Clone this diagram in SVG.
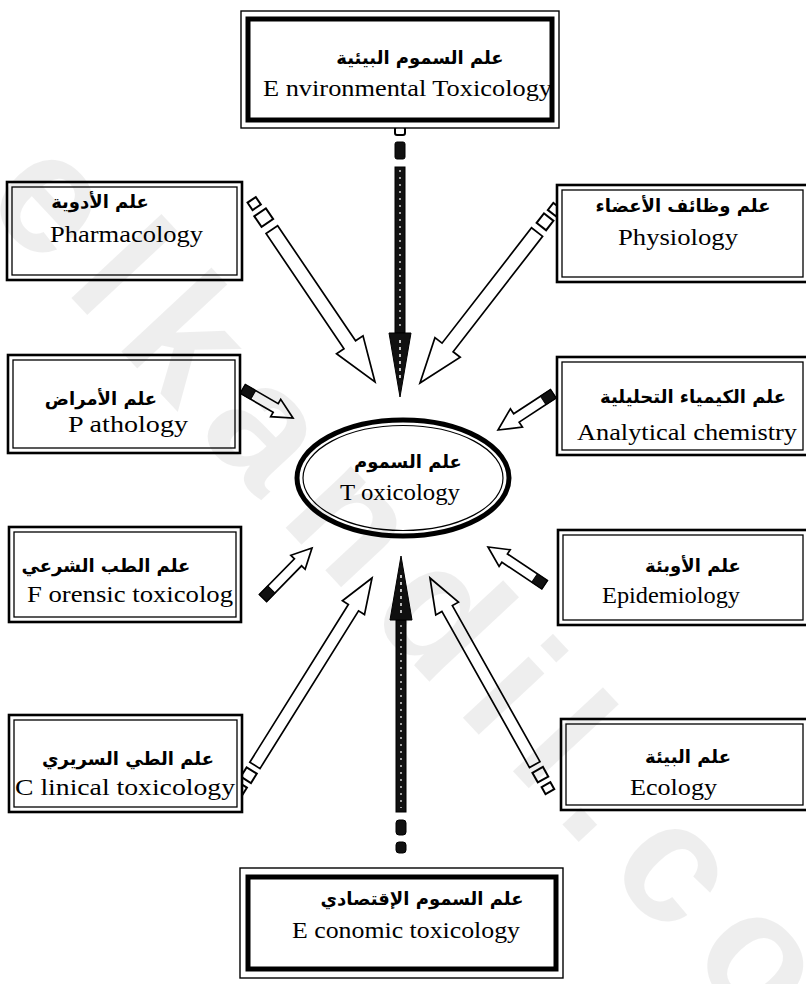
<svg xmlns="http://www.w3.org/2000/svg" width="806" height="984" viewBox="0 0 806 984">
<style>
.bo{fill:#fff;stroke:#000;stroke-width:2.6}
.bi{fill:none;stroke:#000;stroke-width:1.3}
.thin{fill:#fff;stroke:#000;stroke-width:1.4}
.thick{fill:none;stroke:#000;stroke-width:5}
.ar{font-family:"DejaVu Sans","Noto Sans",sans-serif;font-weight:bold;font-size:18px;text-anchor:middle;fill:#000}
.en{font-family:"Liberation Serif","Times New Roman",serif;font-size:24px;fill:#000}
.arw{fill:#fff;stroke:#000;stroke-width:1.7;stroke-linejoin:miter}
.dk{fill:#111;stroke:#000;stroke-width:1}
.sq{fill:#fff;stroke:#000;stroke-width:2}
.wm{font-family:"Liberation Sans",sans-serif;font-weight:bold;font-size:170px;letter-spacing:26px;fill:#000;fill-opacity:0.065}
</style>
<rect width="806" height="984" fill="#fff"/>

<g id="connectors">
  <g id="c-top">
    <rect x="395" y="127" width="10" height="8" rx="2" class="sq"/>
    <rect x="395" y="142" width="10" height="17" rx="2" class="dk"/>
    <rect x="395" y="167" width="10" height="166" class="dk"/>
    <line x1="400" y1="170" x2="400" y2="330" stroke="#fff" stroke-width="1.2" stroke-dasharray="2 5"/>
    <path d="M389,333 L411,333 L400,397 Z" class="dk"/>
    <line x1="400" y1="340" x2="400" y2="380" stroke="#fff" stroke-width="1.5" stroke-dasharray="3 4"/>
  </g>
  <g id="c-bottom">
    <rect x="396" y="820" width="10" height="15" rx="3" class="dk"/>
    <rect x="396" y="842" width="10" height="11" rx="3" class="dk"/>
    <rect x="396" y="620" width="10" height="192" class="dk"/>
    <line x1="401" y1="625" x2="401" y2="808" stroke="#fff" stroke-width="1.2" stroke-dasharray="2 5"/>
    <path d="M390,620 L412,620 L401,556 Z" class="dk"/>
    <line x1="401" y1="575" x2="401" y2="615" stroke="#fff" stroke-width="1.5" stroke-dasharray="3 4"/>
  </g>
  <g id="c-pharm" transform="translate(375,382) rotate(55.9)">
    <path d="M0,0 L-45,-16 L-45,-7 L-184,-7 L-184,7 L-45,7 L-45,16 Z" class="arw"/>
    <rect x="-205" y="-7" width="13" height="14" class="sq"/>
    <rect x="-220" y="-5" width="9" height="10" class="sq"/>
  </g>
  <g id="c-phys" transform="translate(420,383) rotate(127.8)">
    <path d="M0,0 L-45,-16 L-45,-7 L-191,-7 L-191,7 L-45,7 L-45,16 Z" class="arw"/>
    <rect x="-210" y="-6" width="12" height="12" class="sq"/>
    <rect x="-224" y="-5" width="9" height="10" class="sq"/>
  </g>
  <g id="c-path" transform="translate(293,418) rotate(30.1)">
    <path d="M0,0 L-20,-10 L-20,-5 L-58,-5 L-58,5 L-20,5 L-20,10 Z" class="arw"/>
    <path d="M-46,-5 L-58,-5 L-58,5 L-46,5 Z" class="dk"/>
  </g>
  <g id="c-anal" transform="translate(498,430) rotate(146.8)">
    <path d="M0,0 L-22,-11 L-22,-5 L-66,-5 L-66,5 L-22,5 L-22,11 Z" class="arw"/>
    <path d="M-54,-5 L-66,-5 L-66,5 L-54,5 Z" class="dk"/>
  </g>
  <g id="c-foren" transform="translate(312,548) rotate(-45.6)">
    <path d="M0,0 L-20,-10 L-20,-5 L-70,-5 L-70,5 L-20,5 L-20,10 Z" class="arw"/>
    <path d="M-58,-5 L-70,-5 L-70,5 L-58,5 Z" class="dk"/>
  </g>
  <g id="c-epid" transform="translate(488,547) rotate(-146.3)">
    <path d="M0,0 L-20,-10 L-20,-5 L-68,-5 L-68,5 L-20,5 L-20,10 Z" class="arw"/>
    <path d="M-56,-5 L-68,-5 L-68,5 L-56,5 Z" class="dk"/>
  </g>
  <g id="c-clin" transform="translate(372,578) rotate(-58)">
    <path d="M0,0 L-35,-13 L-35,-6 L-221,-6 L-221,6 L-35,6 L-35,13 Z" class="arw"/>
    <rect x="-238" y="-6" width="11" height="12" class="sq"/>
    <rect x="-252" y="-5" width="8" height="10" class="sq"/>
  </g>
  <g id="c-eco" transform="translate(430,578) rotate(-119.3)">
    <path d="M0,0 L-35,-13 L-35,-6 L-214,-6 L-214,6 L-35,6 L-35,13 Z" class="arw"/>
    <rect x="-231" y="-6" width="11" height="12" class="sq"/>
    <rect x="-245" y="-5" width="8" height="10" class="sq"/>
  </g>
</g>

<g id="n-env">
  <rect x="241" y="11" width="318" height="117" class="thin"/>
  <rect x="248" y="19" width="304" height="101" class="thick"/>
  <text class="ar" x="420" y="64">علم السموم البيئية</text>
  <text class="en" x="263" y="96" textLength="289" lengthAdjust="spacingAndGlyphs">E nvironmental Toxicology</text>
</g>

<g id="n-pharm">
  <rect x="7" y="182" width="235" height="98" class="bo"/>
  <rect x="12" y="187" width="225" height="88" class="bi"/>
  <text class="ar" x="100" y="208">علم الأدوية</text>
  <text class="en" x="50" y="242" textLength="153" lengthAdjust="spacingAndGlyphs">Pharmacology</text>
</g>

<g id="n-phys">
  <rect x="557" y="185" width="252" height="97" class="bo"/>
  <rect x="562" y="190" width="241" height="87" class="bi"/>
  <text class="ar" x="683" y="212">علم وظائف الأعضاء</text>
  <text class="en" x="618" y="245" textLength="120" lengthAdjust="spacingAndGlyphs">Physiology</text>
</g>

<g id="n-path">
  <rect x="8" y="355" width="232" height="98" class="bo"/>
  <rect x="13" y="360" width="222" height="88" class="bi"/>
  <text class="ar" x="101" y="405">علم الأمراض</text>
  <text class="en" x="68" y="432" textLength="120" lengthAdjust="spacingAndGlyphs">P athology</text>
</g>

<g id="n-anal">
  <rect x="557" y="357" width="252" height="98" class="bo"/>
  <rect x="562" y="362" width="241" height="88" class="bi"/>
  <text class="ar" x="693" y="403">علم الكيمياء التحليلية</text>
  <text class="en" x="577" y="440" textLength="220" lengthAdjust="spacingAndGlyphs">Analytical chemistry</text>
</g>

<g id="n-tox">
  <ellipse cx="403" cy="478" rx="106" ry="58" fill="#fff" stroke="#000" stroke-width="5"/>
  <ellipse cx="403" cy="478" rx="100" ry="52.5" fill="none" stroke="#000" stroke-width="1.2"/>
  <text class="ar" x="408" y="468">علم السموم</text>
  <text class="en" x="340" y="500" textLength="120" lengthAdjust="spacingAndGlyphs">T oxicology</text>
</g>

<g id="n-foren">
  <rect x="9" y="527" width="232" height="95" class="bo"/>
  <rect x="14" y="532" width="222" height="85" class="bi"/>
  <text class="ar" x="106" y="572">علم الطب الشرعي</text>
  <text class="en" x="27" y="602" textLength="206" lengthAdjust="spacingAndGlyphs">F orensic toxicolog</text>
</g>

<g id="n-epid">
  <rect x="558" y="530" width="251" height="95" class="bo"/>
  <rect x="563" y="535" width="240" height="85" class="bi"/>
  <text class="ar" x="693" y="572">علم الأوبئة</text>
  <text class="en" x="602" y="603" textLength="138" lengthAdjust="spacingAndGlyphs">Epidemiology</text>
</g>

<g id="n-clin">
  <rect x="9" y="715" width="233" height="97" class="bo"/>
  <rect x="14" y="720" width="223" height="87" class="bi"/>
  <text class="ar" x="128" y="765">علم الطي السريري</text>
  <text class="en" x="15" y="795" textLength="220" lengthAdjust="spacingAndGlyphs">C linical toxicology</text>
</g>

<g id="n-eco">
  <rect x="561" y="719" width="248" height="91" class="bo"/>
  <rect x="566" y="724" width="237" height="81" class="bi"/>
  <text class="ar" x="688" y="763">علم البيئة</text>
  <text class="en" x="630" y="795" textLength="87" lengthAdjust="spacingAndGlyphs">Ecology</text>
</g>

<g id="n-econ">
  <rect x="240" y="868" width="323" height="110" class="thin"/>
  <rect x="248" y="877" width="308" height="92" class="thick"/>
  <text class="ar" x="422" y="905">علم السموم الإقتصادي</text>
  <text class="en" x="292" y="938" textLength="228" lengthAdjust="spacingAndGlyphs">E conomic toxicology</text>
</g>

<text class="wm" transform="translate(-19,201) rotate(47)">elkandil.com</text>
</svg>
